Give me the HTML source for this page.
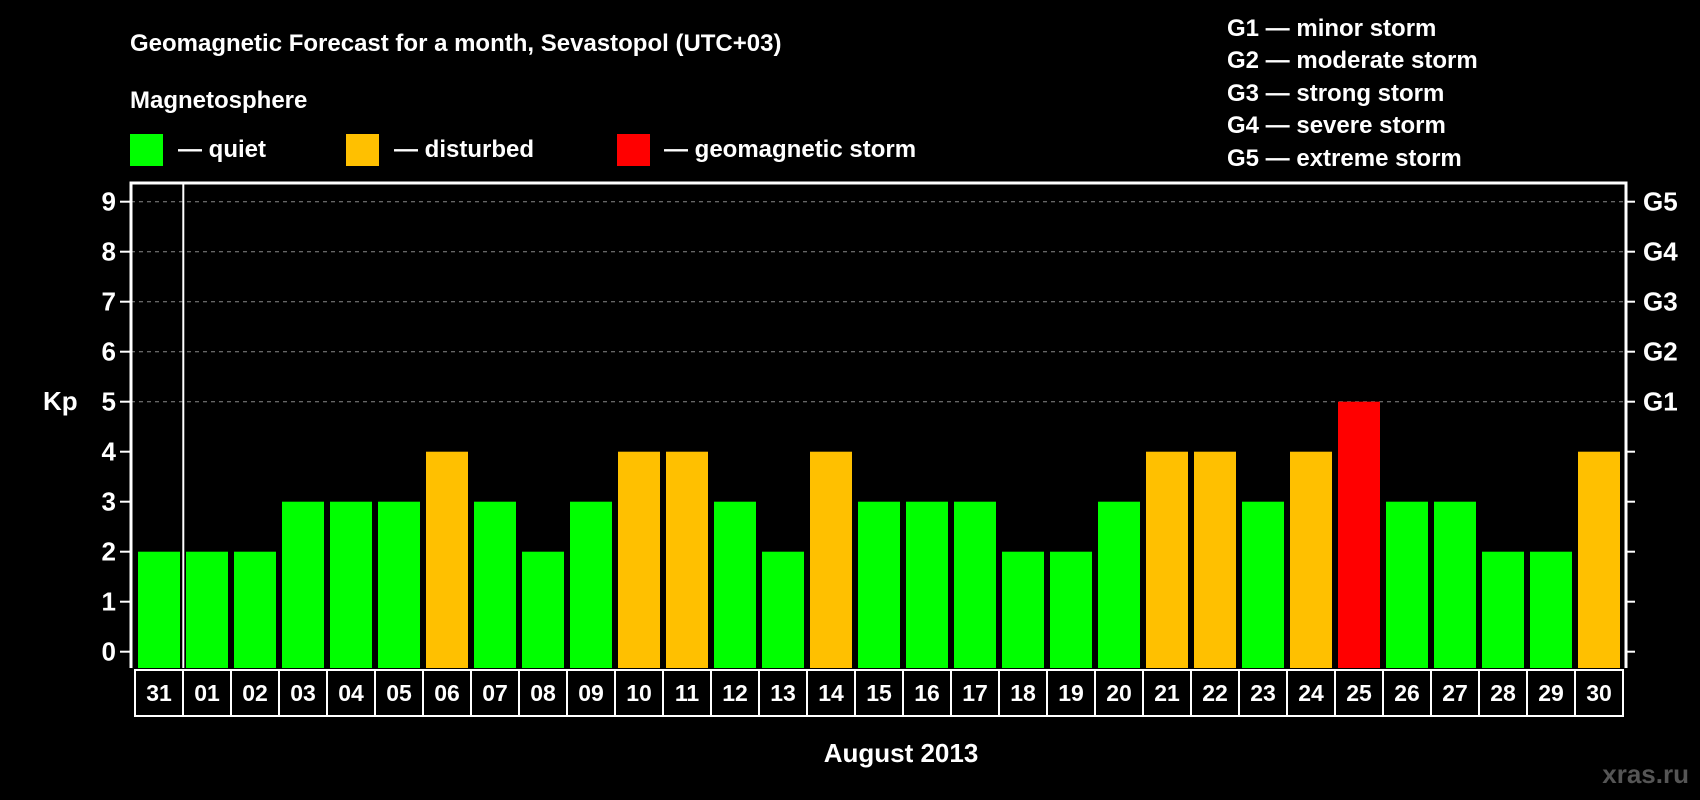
<!DOCTYPE html>
<html><head><meta charset="utf-8"><style>
html,body{margin:0;padding:0;background:#000;width:1700px;height:800px;overflow:hidden}
svg{display:block;font-family:"Liberation Sans",Arial,sans-serif;font-weight:bold}
</style></head><body>
<svg id="chart" width="1700" height="800" viewBox="0 0 1700 800">
<text x="130" y="51" fill="#fff" font-size="24">Geomagnetic Forecast for a month, Sevastopol (UTC+03)</text>
<text x="130" y="108" fill="#fff" font-size="24">Magnetosphere</text>
<g><rect x="130" y="134" width="33" height="32" fill="#00ff00"/><text x="178" y="157" fill="#fff" font-size="24">— quiet</text></g>
<g><rect x="346" y="134" width="33" height="32" fill="#ffc000"/><text x="394" y="157" fill="#fff" font-size="24">— disturbed</text></g>
<g><rect x="617" y="134" width="33" height="32" fill="#ff0000"/><text x="664" y="157" fill="#fff" font-size="24">— geomagnetic storm</text></g>
<g fill="#fff" font-size="24">
<text x="1227" y="36">G1 — minor storm</text>
<text x="1227" y="68">G2 — moderate storm</text>
<text x="1227" y="101">G3 — strong storm</text>
<text x="1227" y="133">G4 — severe storm</text>
<text x="1227" y="166">G5 — extreme storm</text>
</g>
<text x="43" y="410" fill="#fff" font-size="26">Kp</text>
<text x="901" y="762" fill="#fff" font-size="26" text-anchor="middle">August 2013</text>
<text x="1689" y="783" fill="#555" font-size="26" text-anchor="end">xras.ru</text>
<g id="grid"></g><g id="bars"></g><g id="axes"></g><g id="xlabels"></g>
</svg>
<script>
const days=["31","01","02","03","04","05","06","07","08","09","10","11","12","13","14","15","16","17","18","19","20","21","22","23","24","25","26","27","28","29","30"];
const kp=[2,2,2,3,3,3,4,3,2,3,4,4,3,2,4,3,3,3,2,2,3,4,4,3,4,5,3,3,2,2,4];
const yTicks=[0,1,2,3,4,5,6,7,8,9];
const gLabels=["G1","G2","G3","G4","G5"];
const NS="http://www.w3.org/2000/svg";
const L=131,R=1626,TOP=183,BOT=668;
const y=v=>651.7-v*50;
const x=i=>138+i*48;
function mk(t,a,p){const e=document.createElementNS(NS,t);for(const k in a)e.setAttribute(k,a[k]);p.appendChild(e);return e;}
const grid=document.getElementById('grid'),bars=document.getElementById('bars'),axes=document.getElementById('axes'),xl=document.getElementById('xlabels');
yTicks.forEach(v=>{
 if(v>=5){const g=mk('line',{x1:L,x2:R,y1:y(v),y2:y(v),stroke:'#888','stroke-width':1,'stroke-dasharray':'4 4'},grid);
 
 }
 const t=mk('line',{x1:120,x2:L,y1:y(v),y2:y(v),stroke:'#fff','stroke-width':2},axes);
 
 
 const t2=mk('line',{x1:R,x2:R+9,y1:y(v),y2:y(v),stroke:'#fff','stroke-width':2},axes);
 
 
 const lb=mk('text',{x:116,y:y(v)+9,fill:'#fff','font-size':26,'text-anchor':'end'},axes);lb.textContent=v;
 
 
});
gLabels.forEach((g,i)=>{const t=mk('text',{x:1643,y:y(5+i)+9,fill:'#fff','font-size':26},axes);t.textContent=g;
 
 });
kp.forEach((v,i)=>{
 const c=v>=5?'#ff0000':(v>=4?'#ffc000':'#00ff00');
 const b=mk('rect',{x:x(i),y:y(v),width:42,height:BOT-y(v),fill:c},bars);
 
 
 const bx=mk('rect',{x:x(i)-3,y:670,width:48,height:46,fill:'none',stroke:'#fff','stroke-width':2},xl);
 
 
 const t=mk('text',{x:x(i)+21,y:701,fill:'#fff','font-size':23,'text-anchor':'middle'},xl);t.textContent=days[i];
 
 
});
const fr=mk('path',{d:`M${L} ${BOT} V${TOP} H${R} V${BOT}`,fill:'none',stroke:'#fff','stroke-width':3},axes);


const dv=mk('line',{x1:183.3,x2:183.3,y1:TOP,y2:BOT,stroke:'#fff','stroke-width':2},axes);


</script>
</body></html>
